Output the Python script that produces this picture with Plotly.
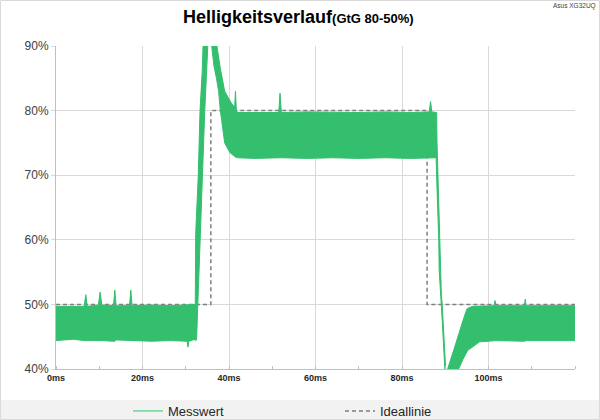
import plotly.graph_objects as go

# ---- data ----
# time in ms
zeit = [0.0, 4.0, 6.5, 6.9, 7.2, 9.8, 10.2, 10.6, 13.3, 13.6, 13.9, 17.0, 17.3, 17.6,
        22.0, 26.5, 30.3, 30.5, 30.7, 32.2,
        32.3, 32.5, 32.8, 32.9, 33.3, 33.6, 33.8, 34.0, 34.4, 35.1, 35.5, 36.0, 36.5,
        37.1, 37.6, 38.0, 39.0, 40.2, 40.5, 41.3, 41.5, 41.7, 42.0,
        46.0, 51.5, 51.8, 52.1, 58.0, 64.0, 70.0, 76.0, 82.0, 86.3, 86.6, 86.9, 87.9,
        88.0, 88.1, 88.3, 88.5, 88.6, 88.8, 89.1, 89.3, 89.9, 90.1, 90.4, 90.6, 92.0,
        92.9, 93.1, 94.1, 95.0, 95.2, 96.3, 97.9, 100.0, 101.3, 101.5, 101.7, 108.3,
        108.5, 108.7, 114.0, 120.0]
# upper envelope of the measured (noisy) brightness
messwert_oben = [0.497, 0.497, 0.497, 0.515, 0.497, 0.499, 0.519, 0.499, 0.498, 0.522, 0.498,
                 0.498, 0.522, 0.498, 0.499, 0.498, 0.499, 0.499, 0.499, 0.500,
                 0.61, 0.64, 0.68, 0.70, 0.80, 0.83, 0.86, 0.90, 0.93, 0.95, 0.95, 0.94, 0.93,
                 0.905, 0.88, 0.865, 0.83, 0.815, 0.812, 0.805, 0.83, 0.80, 0.797,
                 0.797, 0.797, 0.827, 0.797, 0.798, 0.797, 0.797, 0.798, 0.797, 0.798, 0.814,
                 0.798, 0.798,
                 0.797, 0.75, 0.70, 0.66, 0.62, 0.553, 0.515, 0.50, 0.425, 0.40, 0.39, 0.401,
                 0.43, 0.45, 0.455, 0.475, 0.493, 0.494, 0.497, 0.497, 0.498, 0.498, 0.506,
                 0.498, 0.498, 0.508, 0.498, 0.498, 0.498]
# lower envelope of the measured (noisy) brightness
messwert_unten = [0.444, 0.446, 0.444, 0.444, 0.444, 0.445, 0.445, 0.444, 0.443, 0.443, 0.445,
                  0.444, 0.444, 0.444, 0.443, 0.444, 0.443, 0.434, 0.443, 0.446,
                  0.444, 0.445, 0.50, 0.52, 0.61, 0.66, 0.70, 0.73, 0.80, 0.90, 0.93, 0.90, 0.87,
                  0.85, 0.83, 0.80, 0.75, 0.735, 0.733, 0.729, 0.728, 0.728, 0.727,
                  0.726, 0.727, 0.727, 0.727, 0.726, 0.727, 0.726, 0.727, 0.726, 0.727, 0.727,
                  0.727, 0.727,
                  0.70, 0.68, 0.66, 0.60, 0.553, 0.525, 0.50, 0.475, 0.40, 0.385, 0.37, 0.37,
                  0.37, 0.38, 0.40, 0.415, 0.427, 0.429, 0.434, 0.442, 0.443, 0.444, 0.444,
                  0.444, 0.443, 0.444, 0.444, 0.444, 0.444]

# ideal step response
ideal_zeit = [0, 35.8, 35.8, 85.8, 85.8, 120]
ideal_wert = [0.5, 0.5, 0.8, 0.8, 0.5, 0.5]

x_tick_vals = [0, 20, 40, 60, 80, 100]
x_tick_text = ["0ms", "20ms", "40ms", "60ms", "80ms", "100ms"]

titel = "Helligkeitsverlauf"
untertitel = "(GtG 80-50%)"
geraet = "Asus XG32UQ"

# ---- figure ----
GREEN = "#33BF6E"
W, H = 600, 420
L, R, T, B = 56, 25, 46, 51
pw, ph = W - L - R, H - T - B


def px(xp):
    return (xp - L) / pw


def py(yp):
    return (H - B - yp) / ph


fig = go.Figure()
fig.add_trace(go.Scatter(x=ideal_zeit, y=ideal_wert, mode="lines", name="Ideallinie",
                         line=dict(color="#7f7f7f", width=1.5, dash="4px,3px"),
                         legend="legend2", hoverinfo="skip"))
fig.add_trace(go.Scatter(x=zeit, y=messwert_unten, mode="lines", name="Messwert",
                         line=dict(color=GREEN, width=1), legend="legend", hoverinfo="skip"))
fig.add_trace(go.Scatter(x=zeit, y=messwert_oben, mode="lines", name="Messwert",
                         line=dict(color=GREEN, width=1), fill="tonexty", fillcolor=GREEN,
                         showlegend=False, hoverinfo="skip"))

FONT = "Liberation Sans, Arial, sans-serif"

fig.update_layout(
    width=W, height=H,
    margin=dict(l=L, r=R, t=T, b=B, pad=0),
    paper_bgcolor="white", plot_bgcolor="white",
    font=dict(family=FONT, color="#404040"),
    xaxis=dict(range=[0, 120], tickvals=x_tick_vals, ticktext=x_tick_text,
               showgrid=True, gridcolor="#d9d9d9", gridwidth=1, zeroline=False,
               showline=True, linecolor="#bfbfbf", linewidth=1, ticks="",
               tickfont=dict(size=9, color="#262626", weight="bold"),
               minor=dict(dtick=10, ticks="inside", ticklen=3, tickcolor="#bfbfbf",
                          showgrid=False)),
    yaxis=dict(range=[0.4, 0.9], dtick=0.1, tickformat=".0%",
               showgrid=True, gridcolor="#d9d9d9", gridwidth=1, zeroline=False,
               showline=True, linecolor="#bfbfbf", linewidth=1,
               ticks="outside", ticklen=4, tickcolor="#d9d9d9",
               tickfont=dict(size=12, color="#404040")),
    legend=dict(orientation="h", xref="container", yref="container",
                x=128 / W, xanchor="left", y=1 - 411 / H, yanchor="middle",
                bgcolor="rgba(0,0,0,0)", font=dict(size=13, color="#262626")),
    legend2=dict(orientation="h", xref="container", yref="container",
                 x=340 / W, xanchor="left", y=1 - 411 / H, yanchor="middle",
                 bgcolor="rgba(0,0,0,0)", font=dict(size=13, color="#262626")),
    shapes=[
        dict(type="rect", xref="paper", yref="paper", layer="below",
             x0=px(0), x1=px(600), y0=py(420), y1=py(400),
             fillcolor="#f2f2f2", line=dict(width=0)),
        dict(type="rect", xref="paper", yref="paper", layer="above",
             x0=px(0.5), x1=px(599.5), y0=py(419.5), y1=py(0.5),
             fillcolor="rgba(0,0,0,0)", line=dict(color="#d9d9d9", width=1)),
    ],
    annotations=[
        dict(xref="paper", yref="paper", x=px(298), y=py(16.5), xanchor="center",
             yanchor="middle", showarrow=False,
             text="<b>" + titel + "</b><span style='font-size:13px'><b>" + untertitel + "</b></span>",
             font=dict(family=FONT, size=18, color="black")),
        dict(xref="paper", yref="paper", x=px(598), y=py(5.5), xanchor="right",
             yanchor="middle", showarrow=False, text=geraet,
             font=dict(family=FONT, size=6.5, color="#404040")),
    ],
)

fig.write_html("out.html", config={"displayModeBar": False},
               post_script="document.body.style.margin='0';")
